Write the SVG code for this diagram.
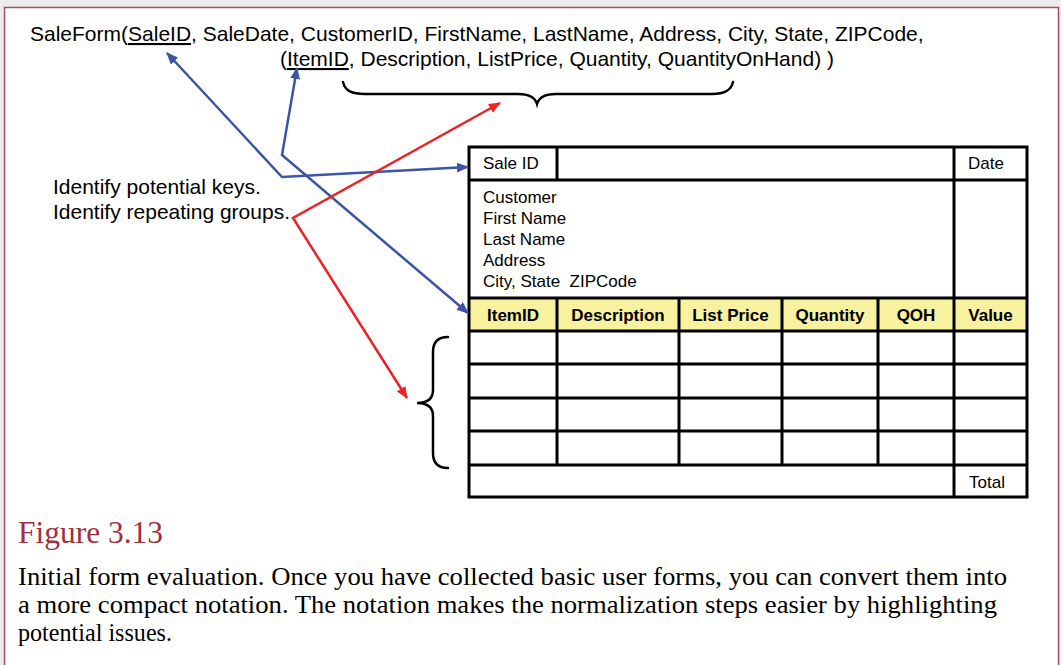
<svg xmlns="http://www.w3.org/2000/svg" width="1061" height="665" viewBox="0 0 1061 665">
  <style>
    .sans { font-family: "Liberation Sans", Arial, sans-serif; fill: #000; }
    .serif { font-family: "Liberation Serif", "Times New Roman", serif; }
    .top { font-size: 21px; }
    .note { font-size: 21px; }
    .cell { font-size: 17px; }
    .head { font-size: 17px; font-weight: bold; text-anchor: middle; }
    .mid { text-anchor: middle; }
    .grid { stroke: #000; stroke-width: 3; fill: none; }
    .brace { stroke: #000; stroke-width: 2.5; fill: none; stroke-linecap: round; }
    .blue { stroke: #3b54a5; stroke-width: 2.5; fill: none; stroke-linejoin: miter; }
    .red { stroke: #ec2227; stroke-width: 2.5; fill: none; stroke-linejoin: miter; }
    .u { text-decoration: underline; }
  </style>
  <defs>
    <marker id="arrowBlue" viewBox="0 0 12 10" refX="11" refY="5" markerWidth="12" markerHeight="10" markerUnits="userSpaceOnUse" orient="auto-start-reverse">
      <path d="M0,0 L12,5 L0,10 Z" fill="#3b54a5"/>
    </marker>
    <marker id="arrowRed" viewBox="0 0 12 10" refX="11" refY="5" markerWidth="12" markerHeight="10" markerUnits="userSpaceOnUse" orient="auto-start-reverse">
      <path d="M0,0 L12,5 L0,10 Z" fill="#ec2227"/>
    </marker>
  </defs>

  <!-- page background and figure frame -->
  <rect x="0" y="0" width="1061" height="665" fill="#ededed"/>
  <rect x="4.5" y="7.5" width="1054" height="670" fill="#ffffff" stroke="#b4495f" stroke-width="1.5"/>

  <!-- relational notation -->
  <g id="notation" class="sans top">
    <text x="30" y="41">SaleForm(<tspan class="u">SaleID</tspan>, SaleDate, CustomerID, FirstName, LastName, Address, City, State, ZIPCode,</text>
    <text x="280" y="66">(<tspan class="u">ItemID</tspan>, Description, ListPrice, Quantity, QuantityOnHand) )</text>
  </g>

  <!-- brace over the repeating group -->
  <g id="group-brace">
    <path class="brace" d="M343,82 C345,91 352,94 365,94 L518,94 C529,94 535,97 537,104 C539,97 545,94 556,94 L712,94 C724,94 731,91 733,82"/>
  </g>

  <!-- annotation -->
  <g id="annotation" class="sans note">
    <text x="53" y="194">Identify potential keys.</text>
    <text x="53" y="219">Identify repeating groups.</text>
  </g>

  <!-- sale form -->
  <g id="sale-form">
    <rect x="469" y="298" width="558" height="33" fill="#f8f29e"/>
    <rect class="grid" x="469" y="147" width="558" height="350" fill="none"/>
    <path class="grid" d="M469,180 H1027 M469,298 H1027 M469,331 H1027 M469,364 H1027 M469,398 H1027 M469,431 H1027 M469,465 H1027"/>
    <path class="grid" d="M557,147 V180 M954,147 V497 M557,298 V465 M679,298 V465 M782,298 V465 M878,298 V465"/>

    <g class="sans cell">
      <text x="483" y="169">Sale ID</text>
      <text class="mid" x="986" y="169">Date</text>
      <text x="483" y="203">Customer</text>
      <text x="483" y="224">First Name</text>
      <text x="483" y="245">Last Name</text>
      <text x="483" y="266">Address</text>
      <text x="483" y="287" xml:space="preserve" style="white-space:pre">City, State  ZIPCode</text>
      <text class="mid" x="987" y="488">Total</text>
    </g>
    <g class="sans head">
      <text x="513" y="321">ItemID</text>
      <text x="618" y="321">Description</text>
      <text x="730.5" y="321">List Price</text>
      <text x="830" y="321">Quantity</text>
      <text x="916" y="321">QOH</text>
      <text x="990.5" y="321">Value</text>
    </g>
  </g>

  <!-- brace beside the repeated rows -->
  <g id="row-brace">
    <path class="brace" d="M448,337 C438,337 433,342 433,352 L433,390 C433,398 428,403 417,403 C428,403 433,408 433,416 L433,453 C433,463 438,468 448,468"/>
  </g>

  <!-- connectors -->
  <g id="connectors">
    <path class="blue" d="M468,167 L282,177 L167,53" marker-start="url(#arrowBlue)" marker-end="url(#arrowBlue)"/>
    <path class="blue" d="M297,68 L282,155 L468,313" marker-start="url(#arrowBlue)" marker-end="url(#arrowBlue)"/>
    <path class="red" d="M500,103 L293,218 L407,398" marker-start="url(#arrowRed)" marker-end="url(#arrowRed)"/>
  </g>

  <!-- caption -->
  <g id="caption" class="serif">
    <text x="18" y="543" font-size="32" fill="#a0303f" textLength="145" lengthAdjust="spacingAndGlyphs">Figure 3.13</text>
    <g font-size="26" fill="#000">
      <text x="18" y="585" textLength="989" lengthAdjust="spacingAndGlyphs">Initial form evaluation. Once you have collected basic user forms, you can convert them into</text>
      <text x="18" y="613" textLength="979" lengthAdjust="spacingAndGlyphs">a more compact notation. The notation makes the normalization steps easier by highlighting</text>
      <text x="18" y="641" textLength="154" lengthAdjust="spacingAndGlyphs">potential issues.</text>
    </g>
  </g>
</svg>
